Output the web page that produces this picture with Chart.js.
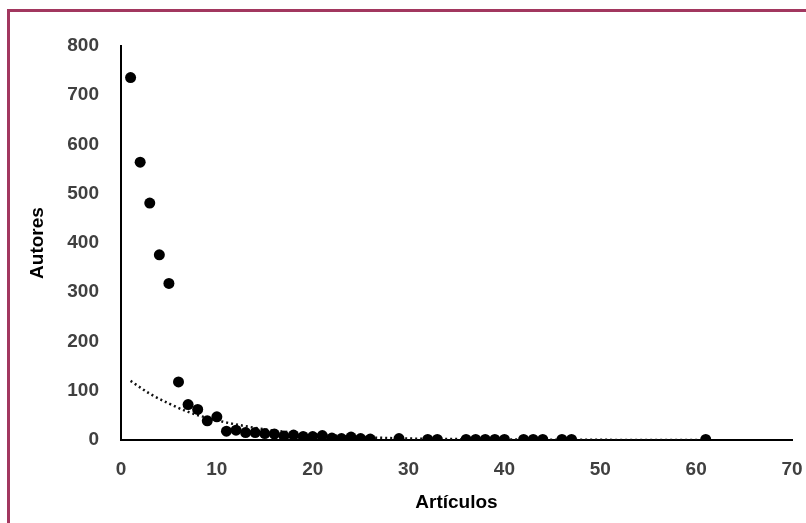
<!DOCTYPE html>
<html lang="es">
<head>
<meta charset="utf-8">
<title>Autores por artículos</title>
<script src="https://cdn.jsdelivr.net/npm/chart.js@4.4.1/dist/chart.umd.min.js"></script>
<style>
  html, body { margin: 0; padding: 0; background: #fff; }
  .wrap { position: relative; width: 806px; height: 523px; overflow: hidden; }
  .frame {
    position: absolute; left: 7px; top: 9px;
    width: 900px; height: 700px;
    border: 3px solid #a2375f;
    pointer-events: none;
  }
</style>
</head>
<body>
<div class="wrap">
  <canvas id="chart"></canvas>
  <div class="frame"></div>
</div>
<script>
// Number of articles per author (x) and how many authors have it (y)
const articles = [1, 2, 3, 4, 5, 6, 7, 8, 9, 10, 11, 12, 13, 14, 15, 16, 17, 18, 19, 20,
  21, 22, 23, 24, 25, 26, 29, 32, 33, 36, 37, 38, 39, 40, 42, 43, 44, 46, 47, 61];
const authors = [736, 564, 481, 376, 318, 118, 72, 62, 39, 47, 18, 20, 15, 15, 13, 12, 8, 10, 7, 7,
  9, 4, 3, 6, 3, 2, 3, 1, 1, 1, 1, 1, 1, 1, 1, 1, 1, 1, 1, 1];

// Trend line (dotted)
const trendX = [1, 3, 5, 7, 10, 13, 16, 20, 25, 30, 35, 40, 50, 61];
const trendY = [120, 94, 74, 57, 40, 28, 19, 12, 6, 3, 1.8, 1, 0.3, 0.1];

const xTicks = [0, 10, 20, 30, 40, 50, 60, 70];
const yTicks = [0, 100, 200, 300, 400, 500, 600, 700, 800];

const FONT = { family: "'Liberation Sans', Arial, sans-serif", size: 19, weight: "bold" };
const TICK_COLOR = "#404040";

const points = articles.map((a, i) => ({ x: a, y: authors[i] }));
const trend = trendX.map((t, i) => ({ x: t, y: trendY[i] }));

new Chart(document.getElementById("chart"), {
  type: "scatter",
  data: {
    datasets: [
      {
        label: "Autores",
        data: points,
        pointRadius: 5.5,
        pointHoverRadius: 5.5,
        pointBackgroundColor: "#000",
        pointBorderWidth: 0,
        order: 1,
      },
      {
        label: "Tendencia",
        data: trend,
        showLine: true,
        pointRadius: 0,
        borderColor: "#111",
        borderWidth: 2.5,
        borderDash: [2, 3],
        cubicInterpolationMode: "monotone",
        order: 2,
      },
    ],
  },
  options: {
    responsive: true,
    maintainAspectRatio: false,
    animation: false,
    layout: { padding: { top: 46, right: 0, left: 0, bottom: 0 } },
    plugins: {
      legend: { display: false },
      tooltip: { enabled: false },
    },
    scales: {
      x: {
        type: "linear",
        min: 0,
        max: 70,
        afterBuildTicks: (scale) => { scale.ticks = xTicks.map((v) => ({ value: v })); },
        afterFit: (scale) => {
          scale.height = 83;
          // keep the axis running up to x = 792 px
          scale.paddingRight = 14;
          scale.paddingLeft = 0;
        },
        grid: { display: false, drawTicks: false, tickLength: 0 },
        border: { display: true, color: "#000", width: 2 },
        ticks: { color: TICK_COLOR, font: FONT, padding: 18 },
        title: {
          display: true,
          text: "Artículos",
          color: "#000",
          font: FONT,
          padding: { top: 0, bottom: 9 },
        },
      },
      y: {
        type: "linear",
        min: 0,
        max: 800,
        afterBuildTicks: (scale) => { scale.ticks = yTicks.map((v) => ({ value: v })); },
        afterFit: (scale) => { scale.width = 121; },
        grid: { display: false, drawTicks: false, tickLength: 0 },
        border: { display: true, color: "#000", width: 2 },
        ticks: { color: TICK_COLOR, font: FONT, padding: 22 },
        title: {
          display: true,
          text: "Autores",
          color: "#000",
          font: FONT,
          padding: { top: 26, bottom: 0 },
        },
      },
    },
  },
});
</script>
</body>
</html>
